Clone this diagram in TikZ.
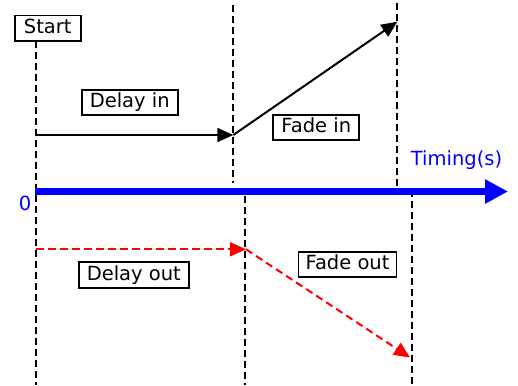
\documentclass[tikz,border=0pt]{standalone}
\usepackage{fontspec}
\setmainfont{DejaVu Sans}
\usetikzlibrary{arrows.meta}
\definecolor{axisblue}{RGB}{0,0,255}
\begin{document}
\begin{tikzpicture}[x=1pt,y=-1pt,
  lbl/.style={draw=black, line width=1.8pt, fill=white, font=\fontsize{19.5}{22}\selectfont,
     text height=14.5pt, text depth=4pt, inner ysep=3.5pt, inner xsep=2pt},
  guide/.style={draw=black, line width=2pt, dash pattern=on 7pt off 4pt},
  inarrow/.style={draw=black, line width=2pt, -{Triangle[length=16pt,width=14pt]}},
  outarrow/.style={draw=red, line width=2pt, dash pattern=on 7.5pt off 4.5pt, -{Triangle[length=16pt,width=14pt]}},
  axislbl/.style={text=axisblue, font=\fontsize{19.5}{22}\selectfont, inner sep=0pt}
]
\useasboundingbox (0,0) rectangle (518,385);
% time guide coordinates
\coordinate (t0top) at (36,41);
\coordinate (t0bot) at (36,385);
\coordinate (t1top) at (233.3,5);
\coordinate (t1bot) at (233.3,183);
\coordinate (t2top) at (397.3,3);
\coordinate (t2bot) at (397.3,187);
\coordinate (u1top) at (245,196);
\coordinate (u1bot) at (245,385);
\coordinate (u2top) at (412.3,190);
\coordinate (u2bot) at (412.3,385);
% guides
\draw[guide] (t0top) -- (t0bot);
\draw[guide] (t1top) -- (t1bot);
\draw[guide] (t2top) -- (t2bot);
\draw[guide] (u1top) -- (u1bot);
\draw[guide] (u2top) -- (u2bot);
% axis
\coordinate (ax0) at (35,191.5);
\coordinate (ax1) at (508,191.5);
\draw[draw=axisblue, line width=7.5pt, -{Triangle[length=23pt,width=23pt]}] (ax0) -- (ax1);
\node[axislbl] (zero) at (25,203.5) {0};
\node[axislbl] (timing) at (456.5,160) {Timing(s)};
% fade in path
\coordinate (p0) at (36,135);
\coordinate (p1) at (233.3,135);
\coordinate (p2) at (397.3,21.7);
\draw[inarrow] (p0) -- (p1);
\draw[inarrow] (p1) -- (p2);
% fade out path
\coordinate (r0) at (36,249.3);
\coordinate (r1) at (246,249.3);
\coordinate (r2) at (410,357.5);
\draw[outarrow] (r0) -- (r1);
\draw[outarrow] (r1) -- (r2);
% labels
\node[lbl, minimum width=66pt] (start) at (47.7,28.2) {Start};
\node[lbl, minimum width=96pt] (delayin) at (129.7,102.5) {Delay in};
\node[lbl, minimum width=86pt] (fadein) at (316.3,127.5) {Fade in};
\node[lbl, minimum width=110pt] (delayout) at (133.8,275) {Delay out};
\node[lbl, minimum width=98pt] (fadeout) at (347.5,264.5) {Fade out};
\end{tikzpicture}
\end{document}
